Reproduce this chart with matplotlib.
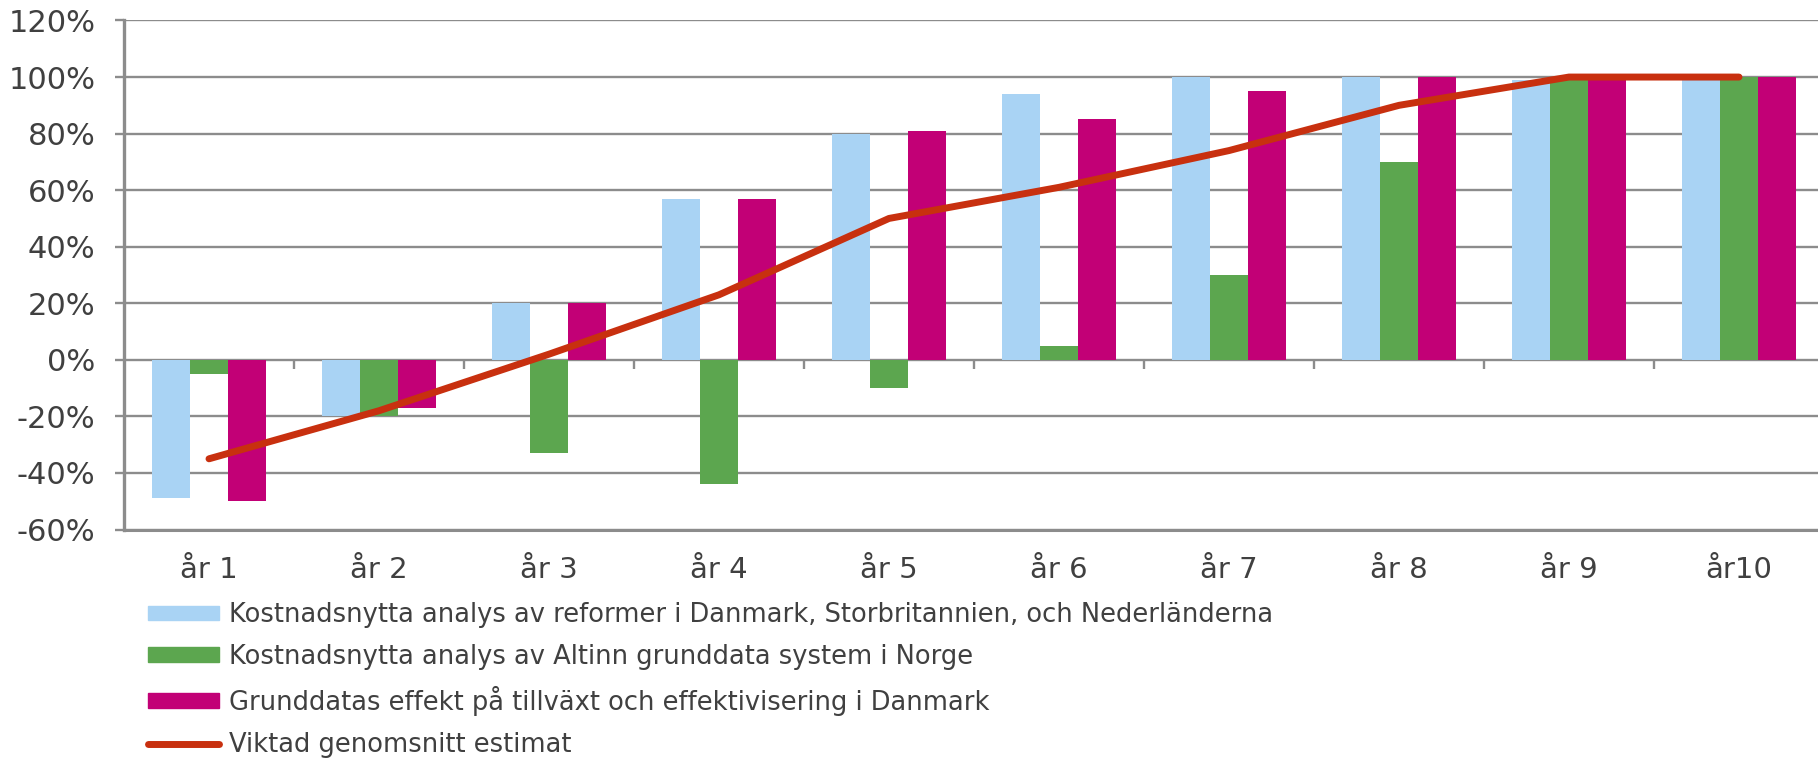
import matplotlib

matplotlib.use("Agg")
import matplotlib.pyplot as plt
import numpy as np
from matplotlib.lines import Line2D
from matplotlib.patches import Patch
from matplotlib.ticker import FixedLocator, FuncFormatter

plt.rcParams["font.family"] = ["DejaVu Sans"]

# ---- data ----
categories = ["år 1", "år 2", "år 3", "år 4", "år 5",
              "år 6", "år 7", "år 8", "år 9", "år10"]
reformer_dk_uk_nl = [-49, -20, 20, 57, 80, 94, 100, 100, 99, 100]
altinn_norge = [-5, -20, -33, -44, -10, 5, 30, 70, 100, 100]
grunddata_dk = [-50, -17, 20, 57, 81, 85, 95, 100, 100, 100]
viktad_snitt = [-35, -18, 2, 23, 50, 61, 74, 90, 100, 100]

labels = [
    "Kostnadsnytta analys av reformer i Danmark, Storbritannien, och Nederländerna",
    "Kostnadsnytta analys av Altinn grunddata system i Norge",
    "Grunddatas effekt på tillväxt och effektivisering i Danmark",
    "Viktad genomsnitt estimat",
]

C_BLUE = "#A9D3F4"
C_GREEN = "#5CA64F"
C_MAGENTA = "#C20076"
C_RED = "#C8300F"
C_GRID = "#8C8C8C"
C_TEXT = "#404040"

W, H = 1818, 759
fig = plt.figure(figsize=(W / 100, H / 100), dpi=100)
ax = fig.add_axes([124 / W, (H - 529.5) / H, 1700 / W, 509 / H])

x = np.arange(len(categories))
bw = 1 / 4.5  # Excel gap width 150 %
ax.bar(x - bw, reformer_dk_uk_nl, bw, color=C_BLUE, zorder=2)
ax.bar(x, altinn_norge, bw, color=C_GREEN, zorder=2)
ax.bar(x + bw, grunddata_dk, bw, color=C_MAGENTA, zorder=2)
ax.plot(x, viktad_snitt, color=C_RED, lw=5, solid_capstyle="round",
        solid_joinstyle="round", zorder=3)

ymin, ymax = -60, 120
ax.set_xlim(-0.5, len(categories) - 0.5)
ax.set_ylim(ymin, ymax)
ax.yaxis.set_major_locator(FixedLocator(np.arange(ymin, ymax + 1, 20)))
ax.yaxis.set_major_formatter(FuncFormatter(lambda v, p: f"{int(v)}%"))
ax.grid(axis="y", color=C_GRID, lw=1.7)
ax.set_axisbelow(True)

ax.set_xticks(x)
ax.set_xticklabels(categories)
ax.tick_params(axis="x", length=0, pad=19, labelsize=21, labelcolor=C_TEXT)
ax.tick_params(axis="y", length=6.5, width=1.7, color=C_GRID, pad=14,
               labelsize=22, labelcolor=C_TEXT)

for side in ["top", "right"]:
    ax.spines[side].set_visible(False)
ax.spines["left"].set_color(C_GRID)
ax.spines["left"].set_linewidth(2.4)
ax.spines["bottom"].set_color(C_GRID)
ax.spines["bottom"].set_linewidth(2.2)

# category separator ticks sit on the 0 % line
zero_ax = ax.secondary_xaxis((0 - ymin) / (ymax - ymin))
zero_ax.set_xticks(x[:-1] + 0.5)
zero_ax.set_xticklabels([])
zero_ax.tick_params(axis="x", direction="out", length=6.5, width=1.7,
                    color=C_GRID)
zero_ax.spines["bottom"].set_visible(False)

handles = [
    Patch(color=C_BLUE),
    Patch(color=C_GREEN),
    Patch(color=C_MAGENTA),
    Line2D([], [], color=C_RED, lw=5, solid_capstyle="round"),
]
leg = fig.legend(handles, labels, loc="upper left",
                 bbox_to_anchor=(148 / W, (H - 602) / H),
                 frameon=False, fontsize=18.5, borderpad=0, borderaxespad=0,
                 handlelength=2.76, handleheight=0.5, handletextpad=0.39,
                 labelspacing=0.62)
for t in leg.get_texts():
    t.set_color(C_TEXT)

fig.savefig("out.png", dpi=100)
